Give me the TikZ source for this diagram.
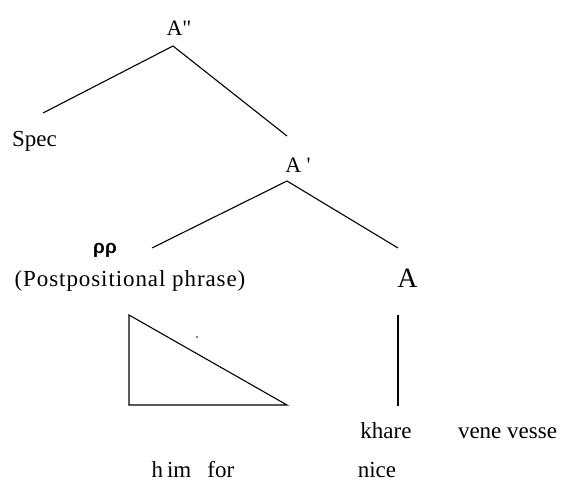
\documentclass[tikz,border=0pt]{standalone}
\usepackage{fontspec}
\newfontfamily\treefont{Liberation Serif}
\newfontfamily\greekfont{Liberation Sans}
\usetikzlibrary{positioning}
\tikzset{
  lab/.style={inner sep=0pt,anchor=base,font=\treefont\fontsize{23}{27}\selectfont},
  barlab/.style={lab,font=\treefont\fontsize{22}{26}\selectfont},
  headlab/.style={lab,font=\treefont\fontsize{28}{32}\selectfont},
  grk/.style={lab,font=\greekfont\bfseries\fontsize{19}{22}\selectfont},
  branch/.style={line width=1.1pt},
}

\begin{document}
\begin{tikzpicture}[x=1pt,y=-1pt]
  \useasboundingbox (0,0) rectangle (565,484);
  % labels
  \node[barlab] (Adp) at (179,36) {A"};
  \node[lab] (spec) at (34.5,147) {Spec};
  \node[barlab] (Abar) at (298,172) {A '};
  \node[grk] (pp) at (105,253) {ρρ};
  \node[lab] (pphrase) at (130,286) {\addfontfeature{LetterSpace=4}(Postpositional phrase)};
  \node[headlab] (Ahead) at (407.5,287) {A};
  \node[lab] (khare) at (386,438) {khare};
  \node[lab] (vene) at (507.5,438) {vene vesse};
  \node[lab] (himfor) at (193,477) {h\,im\hspace{0.7em}for};
  \node[lab] (nice) at (377,477) {nice};
  % branches
  \draw[branch] ([xshift=8.5pt,yshift=34pt]spec.base) -- ([xshift=-6pt,yshift=-10pt]Adp.base)
    -- ([xshift=-11pt,yshift=36pt]Abar.base);
  \draw[branch] ([xshift=47pt,yshift=5pt]pp.base) -- ([xshift=-11pt,yshift=-9pt]Abar.base)
    -- ([xshift=-9.5pt,yshift=39pt]Ahead.base);
  \draw[branch] ([xshift=-9.5pt,yshift=-28pt]Ahead.base) -- ([xshift=12pt,yshift=32pt]khare.base);
  % triangle under PP
  \draw[branch] (129,315) -- (129,405) -- (287,405) -- cycle;
  \fill (197,337) circle (0.9);
\end{tikzpicture}
\end{document}
